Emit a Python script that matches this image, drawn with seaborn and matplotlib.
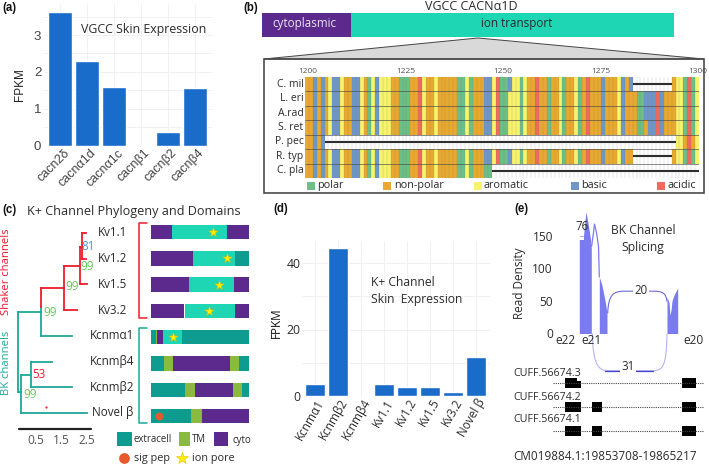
import itertools
import numpy as np
import pandas as pd
import matplotlib
matplotlib.use("Agg")
import matplotlib.pyplot as plt
from matplotlib.colors import ListedColormap
from matplotlib.patches import Rectangle, Polygon, PathPatch
from matplotlib.path import Path
from matplotlib.transforms import ScaledTranslation
import seaborn as sns

# ---------- data ----------
vgcc_genes = ["cacn2δ", "cacnα1d", "cacnα1c", "cacnβ1", "cacnβ2", "cacnβ4"]
vgcc_fpkm = [3.63, 2.30, 1.60, 0.0, 0.36, 1.56]

k_genes = ["Kcnmα1", "Kcnmβ2", "Kcnmβ4", "Kv1.1", "Kv1.2", "Kv1.5", "Kv3.2", "Novel β"]
k_fpkm = [3.6, 44.4, 0.0, 3.5, 2.8, 2.8, 1.2, 11.8]

species = ["C. mil", "L. eri", "A.rad", "S. ret", "P. pec", "R. typ", "C. pla"]
residue_classes = ["O", "Y", "G", "B", "R"]
start = "OOBOBOYBBYOOBBYOGYBYYYOOGGGOORYOOYOOOOOGGYGOOOBBYR"
alignment = [
    start + "GGBYYGYOOROOGOOYGOOYGOROOOBOOOYBOB----------OYYGRGY",
    start + "GGYYYGYOOROOGOOYGOOYGOROOOBOOOYBOOOGGBBBRBOOOYYGRGY",
    start + "GGYYYGYOOROOGOOYGOOYGOROOOBOOOYBOOOGGBBBRBOOOYYGRGY",
    start + "GGYYYGYOOROOGOOYGOOYGOROOOBOOOYBOOOGGOBBRBOOOYYGRGY",
    "OOBOB" + "-" * 90 + "YYOROY",
    start + "GGBYYGYOOROOGOOYGOOYGOROOOBOOOYBOO----------OYYGRGY",
    start[:46] + "GG" + "-" * 53,
]
aln_ticks = [1200, 1225, 1250, 1275, 1300]

# phylogeny: (x0, row0, x1, row1) in substitutions/branch length units
shaker_branches = [
    (0.695, 2.87, 0.695, 2.14), (0.695, 2.14, 1.594, 2.14), (1.594, 1.28, 1.594, 3.0),
    (1.594, 3.0, 2.10, 3.0), (1.594, 1.28, 2.22, 1.28), (2.22, 0.545, 2.22, 2.0),
    (2.22, 2.0, 2.49, 2.0), (2.22, 0.545, 2.30, 0.545), (2.30, 0.0, 2.30, 1.0),
    (2.30, 0.0, 2.45, 0.0), (2.30, 1.0, 2.45, 1.0),
]
bk_branches = [
    (-0.19, 3.07, 0.695, 3.07), (-0.19, 3.07, -0.19, 6.19), (0.695, 2.87, 0.695, 4.0),
    (0.695, 4.0, 1.906, 4.0), (-0.19, 6.19, -0.086, 6.19), (-0.086, 5.53, -0.086, 7.0),
    (-0.086, 7.0, 2.49, 7.0), (-0.086, 5.53, 0.305, 5.53), (0.305, 5.0, 0.305, 6.0),
    (0.305, 5.0, 1.125, 5.0), (0.305, 6.0, 1.906, 6.0),
]
tips = ["Kv1.1", "Kv1.2", "Kv1.5", "Kv3.2", "Kcnmα1", "Kcnmβ4", "Kcnmβ2", "Novel β"]

# protein domains: (start %, end %, kind) per protein
domains = [
    [(0, 21.6, "c"), (21.6, 77.7, "i"), (77.7, 100, "c")],
    [(0, 42.6, "c"), (42.6, 85.8, "i"), (85.8, 100, "e")],
    [(0, 38.5, "c"), (38.5, 84.5, "i"), (84.5, 100, "c")],
    [(0, 33.8, "c"), (34.8, 86.1, "i"), (86.1, 100, "c")],
    [(0, 4.7, "e"), (4.7, 6.1, "t"), (6.1, 12.2, "c"), (12.2, 31.8, "i"), (31.8, 100, "e")],
    [(0, 12.8, "e"), (12.8, 22.3, "t"), (22.3, 80.7, "c"), (80.7, 89.9, "t"), (89.9, 100, "e")],
    [(0, 34.5, "e"), (34.5, 44.9, "t"), (44.9, 83.8, "c"), (83.8, 92.9, "t"), (92.9, 100, "e")],
    [(0, 41.2, "e"), (41.2, 52.4, "t"), (52.4, 100, "c")],
]
pore_row = [0, 1, 2, 3, 4]
pore_pos = [63.5, 78, 69.6, 59.1, 22.3]
sigpep_row, sigpep_pos = 7, 8.1

# sashimi: position along the locus, read density
e22_pos = [26.3, 30.5, 32, 33, 35, 37.5, 38.3]
e22_den = [150, 150, 175, 187, 170, 145, 130]
e21_pos = [46.3, 49, 52, 54]
e21_den = [87, 74, 51, 32]
e20_pos = [114, 116, 117, 118, 119, 121, 124.7]
e20_den = [56, 48, 28, 36, 50, 59, 70]
bridge_pos = [38.6, 40.5, 41.5, 43.5, 45.5, 46.3]
bridge_den = [134, 155, 168, 155, 134, 87]
isoforms = ["CUFF.56674.3", "CUFF.56674.2", "CUFF.56674.1"]
isoform_exons = [
    [(12.3, 23.7, 0.42), (23.7, 28, 0.28), (129, 143, 0.42)],
    [(12.3, 28, 0.42), (39, 48.7, 0.42), (129, 143, 0.42)],
    [(12.3, 28, 0.42), (39, 48.7, 0.42), (129, 143, 0.42)],
]

# ---------- style ----------
W, H = 709, 468
sns.set_theme(style="white")
plt.rcParams["font.family"] = ["Open Sans", "DejaVu Sans"]
BAR = "#1A6CCB"
PURPLE, ION, EXTRA, TM = "#5B2A8C", "#1FD6B4", "#0E9C90", "#8ABB40"
RED, TEAL = "#EE1C2E", "#1FA89A"
TXT = "#2b2b2b"
RES = {"O": "#E8A92E", "Y": "#F8F36C", "G": "#6CBF86", "B": "#6E97C8", "R": "#EE6A5C"}
DOM = {"c": PURPLE, "i": ION, "e": EXTRA, "t": TM}
EXON = "#7B7BF0"

fig = plt.figure(figsize=(W / 100, H / 100), dpi=100, facecolor="white")


def axpx(x0, y0, x1, y1, **kw):
    return fig.add_axes([x0 / W, 1 - y1 / H, (x1 - x0) / W, (y1 - y0) / H], **kw)


def shift(dx, dy):
    return ScaledTranslation(dx / 100, dy / 100, fig.dpi_scale_trans)


ov = axpx(0, 0, W, H, zorder=6)
ov.set_xlim(0, W)
ov.set_ylim(H, 0)
ov.axis("off")


def T(x, y, s, size=8.5, ha="center", va="center", color=TXT, **kw):
    ov.text(x, y, s, fontsize=size, ha=ha, va=va, color=color, **kw)


def bar_panel(ax, cats, vals, width, major, minor):
    sns.barplot(x=cats, y=vals, color=BAR, saturation=1, width=width, ax=ax, zorder=3)
    sns.despine(ax=ax, left=True, bottom=True)
    ax.set_yticks(major)
    ax.set_yticks(minor, minor=True)
    ax.grid(True, which="both", color="#f0f0f0", lw=0.7)
    ax.set_axisbelow(True)
    ax.tick_params(which="both", length=0)


# ---------- (a) ----------
ax = axpx(44, 4, 212, 145.7)
bar_panel(ax, vgcc_genes, vgcc_fpkm, 0.89, [0, 1, 2, 3], [0.5, 1.5, 2.5, 3.5])
ax.set_xlim((44 - 60.3) / 26.9, (212 - 60.3) / 26.9)
ax.set_ylim(0, 141.7 / 36.9)
ax.set_yticklabels(["0", "1", "2", "3"], fontsize=9.5, color="#444", family="Liberation Sans")
ax.tick_params(axis="y", pad=2)
ax.tick_params(axis="x", pad=1)
ax.set_xticks(range(6))
ax.set_xticklabels(vgcc_genes, rotation=45, ha="right", rotation_mode="anchor",
                   fontsize=9, color="#444", family="Liberation Sans")
for lab in ax.get_xticklabels():
    lab.set_transform(lab.get_transform() + shift(3, 0))
T(20, 85, "FPKM", size=8.5, rotation=90, family="Liberation Sans", color="#222")
T(81, 29, "VGCC Skin Expression", size=8.9, ha="left")

# ---------- (b) ----------
ov.add_patch(Rectangle((262, 13), 89, 24, color=PURPLE, lw=0))
ov.add_patch(Rectangle((351, 13), 323, 24, color=ION, lw=0))
ov.add_patch(Polygon([(478, 38), (264, 59), (704, 59)], fc="#d9d9d9", ec="#444", lw=0.7))
ov.add_patch(Rectangle((264, 59), 440, 134, fc="none", ec="#4a4a4a", lw=1.2))
T(471, 7, "VGCC CACNα1D", size=9)
T(304, 24, "cytoplasmic", size=8.4, color="#e9e4f2")
T(517, 24, "ion transport", size=8.4)

codes = {c: i for i, c in enumerate(residue_classes)}
matrix = pd.DataFrame(
    [[codes.get(c, np.nan) for c in row] for row in alignment], index=species
)
ax = axpx(305, 77, 699, 178)
sns.heatmap(matrix, ax=ax, cmap=ListedColormap([RES[c] for c in residue_classes]),
            vmin=-0.5, vmax=4.5, cbar=False, linewidths=0, yticklabels=True, rasterized=True)
ax.set_facecolor("white")
n_col = matrix.shape[1]
ax.vlines(np.arange(1, n_col), 0, len(species), color="#6b6b6b", lw=0.3, alpha=0.4)
ax.hlines(np.arange(1, len(species)), 0, n_col, color="#4a4a4a", lw=0.45)
for r, row in enumerate(alignment):
    pos = 0
    for ch, grp in itertools.groupby(row):
        n = len(list(grp))
        if ch == "-":
            ax.hlines(r + 0.5, pos, pos + n, color="#2e2e2e", lw=1.5)
        pos += n
ax.xaxis.tick_top()
ax.set_xticks([t - 1200 + 0.75 for t in aln_ticks])
ax.set_xticklabels([str(t) for t in aln_ticks], rotation=0, fontsize=6, color="#555")
ax.set_yticklabels(species, rotation=0, fontsize=7.5, color=TXT)
ax.tick_params(length=0, pad=1)
ax.tick_params(axis="x", pad=1.2)
ax.set_xlabel("")
ax.set_ylabel("")
for sq, tx, lab, c in [(307, 317, "polar", "G"), (383, 394, "non-polar", "O"),
                       (474, 484, "aromatic", "Y"), (571, 581, "basic", "B"),
                       (657, 668, "acidic", "R")]:
    ov.add_patch(Rectangle((sq, 182), 7.5, 8, color=RES[c], lw=0))
    T(tx, 185.5, lab, size=7.8, ha="left")

# ---------- (c) ----------
T(27, 212, "K+ Channel Phylogeny and Domains", size=9.1, ha="left")
ax = axpx(15, 222, 95, 431)
ax.set_xlim((15 - 23.2) / 25.6, (95 - 23.2) / 25.6)
ax.set_ylim((431 - 233) / 25.7, (222 - 233) / 25.7)
for segs, col in [(bk_branches, TEAL), (shaker_branches, RED)]:
    for x0, y0, x1, y1 in segs:
        ax.plot([x0, x1], [y0, y1], color=col, lw=1.3, solid_capstyle="projecting")
ax.plot(0.875, 6.76, marker=".", ms=1.2, color=RED)
ax.plot([-0.16, 2.65], [7.63, 7.63], color="#222", lw=1.6)
ax.set_yticks([])
ax.set_xticks([0.5, 1.5, 2.5])
ax.set_xticklabels(["0.5", "1.5", "2.5"], fontsize=8.6, color="#555")
ax.tick_params(length=0, pad=2.5)
ax.patch.set_alpha(0)
sns.despine(ax=ax, left=True, bottom=True)

for i, tip in enumerate(tips):
    T(112.3, 233 + i * 25.7, tip, size=8.4)
T(7, 272, "Shaker channels", size=8.1, rotation=90, color=RED)
T(7, 363, "BK channels", size=8.1, rotation=90, color=TEAL)
for x, y, s, c in [(88, 246, "81", "#4B93DC"), (87, 267, "99", "#63C75E"), (72, 286, "99", "#63C75E"),
                   (50, 312, "99", "#63C75E"), (39, 375, "53", RED), (30, 394, "99", "#63C75E")]:
    T(x, y, s, size=8.4, color=c)

ax = axpx(151, 222, 249, 425)
ax.set_xlim(0, 100)
ax.set_ylim((425 - 232) / 26.3, (222 - 232) / 26.3)
for r, segs in enumerate(domains):
    for a, b, kind in segs:
        ax.barh(r, b - a, left=a, height=0.55, color=DOM[kind], lw=0)
ax.scatter(pore_pos, pore_row, marker="*", s=48, color="#FFF200", edgecolor="#E6B800", lw=0.4, zorder=4)
ax.scatter([sigpep_pos], [sigpep_row], marker="o", s=32, color="#E8582A", lw=0, zorder=4)
ax.axis("off")

for (y0, y1, c) in [(223, 318, RED), (328, 423, TEAL)]:
    ov.plot([147, 139, 139, 147], [y0, y0, y1, y1], color=c, lw=1.1)
for x, c in [(117, EXTRA), (178.5, TM), (213.5, PURPLE)]:
    ov.add_patch(Rectangle((x, 432), 14.5 if x != 178.5 else 11.5, 14, color=c, lw=0))
T(134, 440, "extracell", size=6.9, ha="left")
T(191.5, 440, "TM", size=6.9, ha="left")
T(232.5, 440, "cyto", size=6.9, ha="left")
ov.scatter([124], [458], s=60, color="#E8582A", lw=0)
ov.scatter([182], [458], marker="*", s=80, color="#FFF200", edgecolor="#E6B800", lw=0.4)
T(134, 459, "sig pep", size=7.8, ha="left")
T(192, 459, "ion pore", size=7.8, ha="left")

# ---------- (d) ----------
ax = axpx(302, 241, 490, 396)
bar_panel(ax, k_genes, k_fpkm, 0.9, [0, 20, 40], [10, 30])
ax.set_xlim((302 - 315) / 23, (490 - 315) / 23)
ax.set_ylim(0, 155 / 3.325)
ax.set_yticklabels(["0", "20", "40"], fontsize=8.8, color=TXT)
for lab in ax.get_yticklabels():
    lab.set_transform(lab.get_transform() + shift(0, 3))
ax.tick_params(axis="y", pad=1)
ax.tick_params(axis="x", pad=0.5)
ax.set_xticks(range(8))
ax.set_xticklabels(k_genes, rotation=60, ha="right", rotation_mode="anchor", fontsize=8.5, color=TXT)
for lab in ax.get_xticklabels():
    lab.set_transform(lab.get_transform() + shift(1, 0))
T(276, 323, "FPKM", size=8.5, rotation=90, color="#111")
T(371, 283, "K+ Channel", size=8.7, ha="left")
T(371, 300, "Skin  Expression", size=8.7, ha="left")

# ---------- (e) ----------
ax = axpx(553, 205, 704, 375)
ax.set_xlim(0, 151)
ax.set_ylim((333.5 - 375) / 0.651, (333.5 - 205) / 0.651)
for px, de in [(e22_pos, e22_den), (e21_pos, e21_den), (e20_pos, e20_den)]:
    ax.fill_between(px, 0, de, color=EXON, lw=0)
ax.fill_between([26.3, 31], 144, 149, color="white", lw=0)
ax.plot(bridge_pos, bridge_den, color=EXON, lw=0.9)
up = Path([(54.7, 31), (55.5, 60), (60, 65), (72, 65), (100, 65), (110, 65), (113, 62), (114, 49)],
          [Path.MOVETO, Path.CURVE4, Path.CURVE4, Path.CURVE4, Path.LINETO, Path.CURVE4, Path.CURVE4, Path.CURVE4])
lo = Path([(39.3, 0), (40, -50), (46, -57), (55, -57), (100, -57), (110, -57), (113.5, -50), (114, 0)],
          [Path.MOVETO, Path.CURVE4, Path.CURVE4, Path.CURVE4, Path.LINETO, Path.CURVE4, Path.CURVE4, Path.CURVE4])
ax.add_patch(PathPatch(up, fc="none", ec="#6A6AD8", lw=0.8))
ax.add_patch(PathPatch(lo, fc="none", ec="#B4B4F0", lw=0.8))
ax.plot([52, 100], [-57, -57], color="#4444C8", lw=0.9)
ax.set_xticks([])
ax.set_yticks([0, 50, 100, 150])
ax.set_yticklabels(["0", "50", "100", "150"], fontsize=8.6, color=TXT)
for lab in ax.get_yticklabels():
    lab.set_transform(lab.get_transform() + shift(0, 7.5))
ax.tick_params(length=0, pad=0)
ax.patch.set_alpha(0)
sns.despine(ax=ax, left=True, bottom=True)
T(582, 227, "76", size=8.3)
T(641, 291, "20", size=8.3, bbox=dict(fc="white", ec="none", pad=0.8))
T(628, 367, "31", size=8.3, bbox=dict(fc="white", ec="none", pad=0.8))
for x, s in [(565, "e22"), (592, "e21"), (694, "e20")]:
    T(x, 341, s, size=8.6)
T(643, 231, "BK Channel", size=8.7)
T(643, 247, "Splicing", size=8.7)
T(520, 283, "Read Density", size=8.5, rotation=90)

ax = axpx(553, 375, 704, 440)
ax.set_xlim(0, 151)
ax.set_ylim((440 - 383) / 24, (375 - 383) / 24)
for r, exons in enumerate(isoform_exons):
    ax.plot([0, 151], [r, r], color="#444", lw=0.8, ls=(0, (1, 1)))
    for a, b, h in exons:
        ax.barh(r + (0.42 - h) / 2, b - a, left=a, height=h, color="black", lw=0)
ax.axis("off")
for y, s in zip([373, 397, 420], isoforms):
    T(513, y, s, size=7.7, ha="left")
T(513.5, 456, "CM019884.1:19853708-19865217", size=8.5, ha="left")

# ---------- panel letters ----------
for x, y, s in [(2, 8, "(a)"), (243, 8, "(b)"), (2, 210, "(c)"), (273, 209, "(d)"), (514, 209, "(e)")]:
    T(x, y, s, size=8.3, ha="left", fontweight="bold", family="Liberation Sans", color="#111")

fig.savefig("out.png", dpi=100)
